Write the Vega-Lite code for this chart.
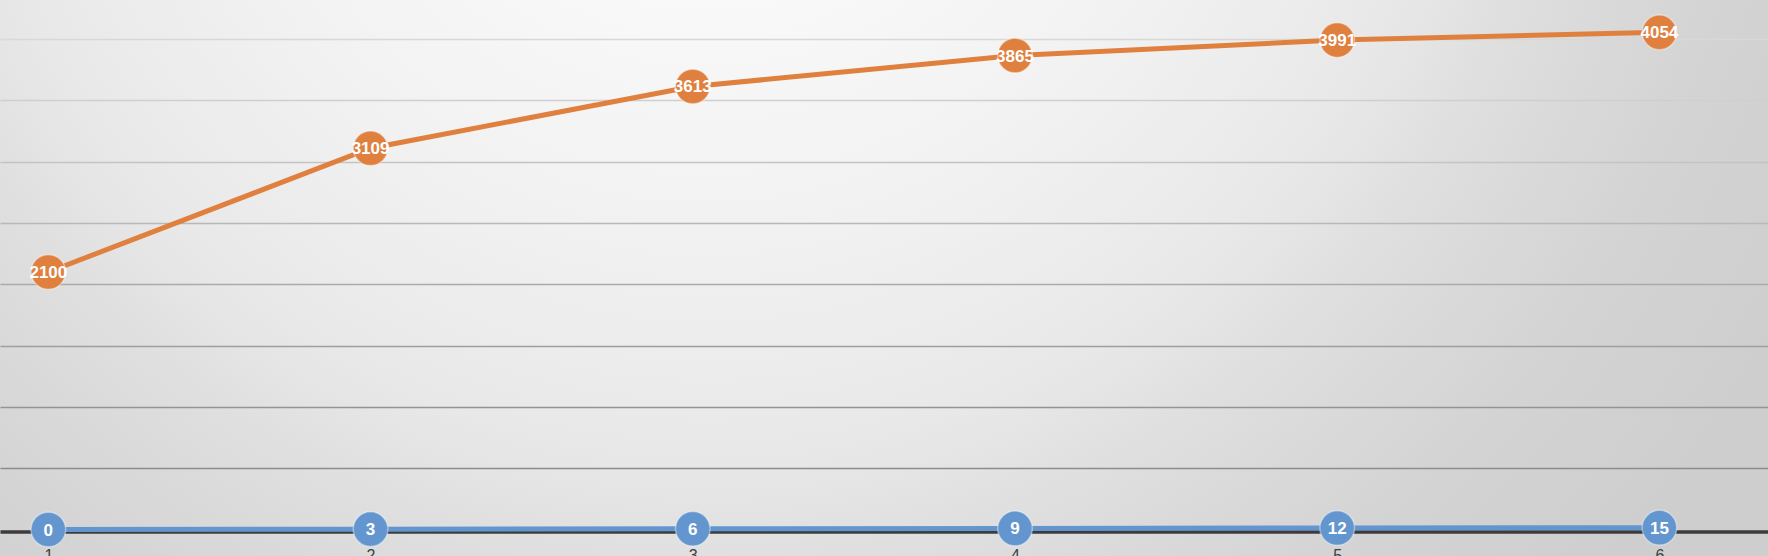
{
  "$schema": "https://vega.github.io/schema/vega-lite/v6.json",
  "autosize": {"type": "none"},
  "padding": 0,
  "width": 1768,
  "height": 556,
  "background": "#dcdcdc",
  "config": {
    "view": {
      "stroke": null,
      "fill": {
        "gradient": "radial",
        "x1": 0.4, "y1": 0.18, "r1": 0,
        "x2": 0.4, "y2": 0.18, "r2": 0.7,
        "stops": [
          {"offset": 0, "color": "#ffffff"},
          {"offset": 0.2, "color": "#fafafa"},
          {"offset": 0.45, "color": "#f0f0f0"},
          {"offset": 0.6, "color": "#e8e8e8"},
          {"offset": 0.7, "color": "#dedede"},
          {"offset": 0.84, "color": "#d4d4d4"},
          {"offset": 1, "color": "#cecece"}
        ]
      }
    }
  },
  "data": {
    "values": [
      {"x": 1, "v": 2100, "s": "A"},
      {"x": 2, "v": 3109, "s": "A"},
      {"x": 3, "v": 3613, "s": "A"},
      {"x": 4, "v": 3865, "s": "A"},
      {"x": 5, "v": 3991, "s": "A"},
      {"x": 6, "v": 4054, "s": "A"},
      {"x": 1, "v": 0, "s": "B"},
      {"x": 2, "v": 3, "s": "B"},
      {"x": 3, "v": 6, "s": "B"},
      {"x": 4, "v": 9, "s": "B"},
      {"x": 5, "v": 12, "s": "B"},
      {"x": 6, "v": 15, "s": "B"}
    ]
  },
  "encoding": {
    "x": {
      "field": "x",
      "type": "quantitative",
      "scale": {"domain": [0.85, 6.337], "nice": false, "zero": false},
      "axis": {
        "title": null,
        "values": [1, 2, 3, 4, 5, 6],
        "format": "d",
        "grid": false,
        "ticks": false,
        "offset": -24.5,
        "domain": true,
        "domainColor": "#3c3c3c",
        "domainWidth": 3.5,
        "labelPadding": 16,
        "labelFont": "Liberation Sans",
        "labelFontSize": 16,
        "labelColor": "#404040",
        "labelBaseline": "top"
      }
    },
    "y": {
      "field": "v",
      "type": "quantitative",
      "scale": {"domain": [-216, 4318], "nice": false, "zero": false},
      "axis": {
        "title": null,
        "values": [500, 1000, 1500, 2000, 2500, 3000, 3500, 4000],
        "labels": false,
        "ticks": false,
        "domain": false,
        "grid": true,
        "gridWidth": 1.5,
        "gridColor": {
          "condition": [
            {"test": "datum.value >= 4000", "value": "#d8d8d8"},
            {"test": "datum.value >= 3500", "value": "#cfcfcf"},
            {"test": "datum.value >= 3000", "value": "#c4c4c4"},
            {"test": "datum.value >= 2500", "value": "#b8b8b8"},
            {"test": "datum.value >= 2000", "value": "#aaaaaa"},
            {"test": "datum.value >= 1500", "value": "#9e9e9e"},
            {"test": "datum.value >= 1000", "value": "#949494"}
          ],
          "value": "#8c8c8c"
        }
      }
    },
    "color": {
      "field": "s",
      "type": "nominal",
      "scale": {"domain": ["A", "B"], "range": ["#e0803f", "#6396cf"]},
      "legend": null
    }
  },
  "layer": [
    {"mark": {"type": "line", "strokeWidth": 5}},
    {"mark": {"type": "point", "filled": true, "size": 1200, "opacity": 1, "stroke": "#ffffff", "strokeOpacity": 0.4, "strokeWidth": 1.5}},
    {
      "mark": {"type": "text", "font": "Liberation Sans", "fontWeight": "bold", "fontSize": 17, "fill": "#ffffff", "baseline": "middle", "align": "center", "dy": 1},
      "encoding": {
        "text": {"field": "v", "type": "quantitative", "format": "d"},
        "color": {"value": "#ffffff"}
      }
    }
  ]
}
